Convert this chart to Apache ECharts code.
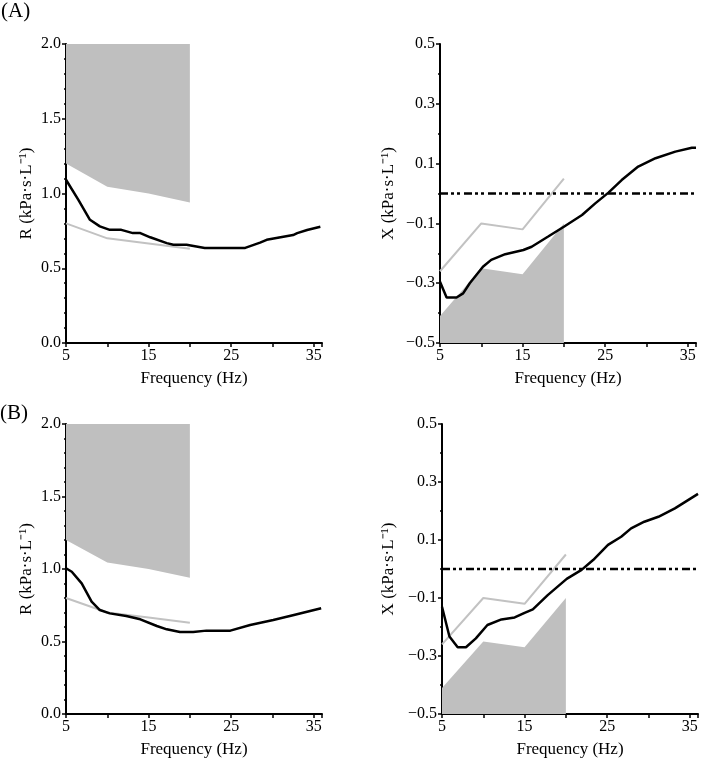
<!DOCTYPE html>
<html><head><meta charset="utf-8">
<script src="https://cdn.jsdelivr.net/npm/echarts@6/dist/echarts.min.js"></script>
<style>html,body{margin:0;padding:0;background:#fff}#c{width:709px;height:762px}</style>
</head><body><div id="c"></div>
<script>
// ---- Reference (predicted/normal) data, shared by A and B ----
const refFreq = [5, 10, 15, 20];
const rShadeLow = [1.20, 1.045, 1.0, 0.94];      // lower edge of shaded R band (band goes up to 2.0)
const rGray = [0.80, 0.70, 0.665, 0.63];
const xShadeHigh = [-0.41, -0.25, -0.27, -0.10]; // upper edge of shaded X band (band goes down to -0.5)
const xGray = [-0.26, -0.10, -0.12, 0.05];

// ---- Panel A ----
const aRFreq = [5, 6.5, 7.9, 9.1, 10.3, 11.7, 13.1, 14.0, 15.2, 17.2, 18.0, 19.6, 21.8, 26.7, 28.5, 29.3, 32.5, 33.0, 34.2, 35.8];
const aR = [1.092, 0.957, 0.824, 0.780, 0.757, 0.757, 0.735, 0.735, 0.707, 0.668, 0.657, 0.657, 0.636, 0.636, 0.671, 0.690, 0.722, 0.735, 0.756, 0.778];
const aXFreq = [5, 5.8, 7.0, 7.8, 8.6, 10.2, 11.2, 12.9, 15.1, 16.1, 18.1, 20, 22.2, 23.8, 25.4, 27.0, 29.0, 31.1, 33.5, 35.5, 36];
const aX = [-0.295, -0.348, -0.348, -0.334, -0.30, -0.245, -0.222, -0.203, -0.189, -0.178, -0.144, -0.111, -0.072, -0.033, 0.003, 0.045, 0.090, 0.118, 0.140, 0.153, 0.153];

// ---- Panel B ----
const bRFreq = [5, 5.7, 6.9, 8.1, 9.1, 10.3, 12.3, 14.0, 16.0, 17.2, 18.8, 20.4, 22.0, 24.9, 27.3, 30.1, 32.6, 35.9];
const bR = [1.005, 0.981, 0.901, 0.775, 0.717, 0.694, 0.676, 0.653, 0.607, 0.584, 0.565, 0.565, 0.575, 0.575, 0.614, 0.648, 0.683, 0.729];
const bXFreq = [5, 5.9, 6.9, 7.9, 9.1, 10.5, 12.2, 13.8, 15.0, 16.0, 17.8, 20.1, 21.9, 23.3, 25.1, 26.7, 27.9, 29.5, 31.2, 33.2, 36.0];
const bX = [-0.130, -0.233, -0.270, -0.270, -0.239, -0.193, -0.174, -0.167, -0.151, -0.139, -0.090, -0.034, -0.003, 0.031, 0.083, 0.111, 0.140, 0.163, 0.180, 0.209, 0.259];

const zeroFreq = [5, 36];
const zeroVal = [0, 0];

const xTickLabels = [5, 15, 25, 35];
const panelLabels = ['(A)', '(B)'];
const rName = 'R (kPa·s·L⁻¹)';
const xName = 'X (kPa·s·L⁻¹)';
const freqName = 'Frequency (Hz)';

const zip = (a, b) => a.map((v, i) => [v, b[i]]);
const FONT = "'Liberation Serif', 'Times New Roman', serif";

const grids = [
  { left: 66, top: 44, width: 256, height: 299 },
  { left: 440, top: 44, width: 256, height: 299 },
  { left: 66, top: 424, width: 256, height: 290 },
  { left: 442, top: 424, width: 256, height: 290 }
];

function xAx(i) {
  return {
    type: 'value', gridIndex: i, min: 5, max: 36, interval: 5,
    axisLine: { show: true, onZero: false, lineStyle: { color: '#000', width: 2 } },
    axisTick: { show: true, length: 4, lineStyle: { color: '#000', width: 1.5 } },
    splitLine: { show: false },
    axisLabel: {
      color: '#000', fontFamily: FONT, fontSize: 16, margin: 5,
      formatter: v => xTickLabels.indexOf(Math.round(v)) >= 0 && Math.abs(v - Math.round(v)) < 1e-6 ? String(Math.round(v)) : ''
    },
    name: freqName, nameLocation: 'middle', nameGap: 27,
    nameTextStyle: { color: '#000', fontFamily: FONT, fontSize: 17 }
  };
}
function yAx(i, isR, gap) {
  return {
    type: 'value', gridIndex: i,
    min: isR ? 0 : -0.5, max: isR ? 2 : 0.5, interval: isR ? 0.5 : 0.2,
    axisLine: { show: true, onZero: false, lineStyle: { color: '#000', width: 2 } },
    axisTick: { show: true, length: 4, lineStyle: { color: '#000', width: 1.5 } },
    minorTick: { show: true, splitNumber: isR ? 5 : 2, length: 2, lineStyle: { color: '#000', width: 1.5 } },
    splitLine: { show: false },
    axisLabel: {
      color: '#000', fontFamily: FONT, fontSize: 16, margin: 5,
      formatter: v => (Math.abs(v) < 1e-9 ? 0 : v).toFixed(1).replace('-', '−')
    },
    name: isR ? rName : xName, nameLocation: 'middle', nameGap: gap, nameRotate: 90,
    nameTextStyle: { color: '#000', fontFamily: FONT, fontSize: 17 }
  };
}

function shade(i, ys, origin) {
  return {
    type: 'line', xAxisIndex: i, yAxisIndex: i, data: zip(refFreq, ys),
    symbol: 'none', silent: true, z: 1,
    lineStyle: { width: 0, color: '#bfbfbf' },
    areaStyle: { color: '#bfbfbf', opacity: 1, origin: origin }
  };
}
function gray(i, ys) {
  return {
    type: 'line', xAxisIndex: i, yAxisIndex: i, data: zip(refFreq, ys),
    symbol: 'none', silent: true, z: 2,
    lineStyle: { width: 2, color: '#c2c2c2' }
  };
}
function black(i, xs, ys) {
  return {
    type: 'line', xAxisIndex: i, yAxisIndex: i, data: zip(xs, ys),
    symbol: 'none', silent: true, z: 4,
    lineStyle: { width: 2.5, color: '#000' }
  };
}
function zero(i) {
  return {
    type: 'line', xAxisIndex: i, yAxisIndex: i, data: zip(zeroFreq, zeroVal),
    symbol: 'none', silent: true, z: 3,
    lineStyle: { width: 2.5, color: '#000', type: [8, 3, 3, 3, 3, 4] }
  };
}

const chart = echarts.init(document.getElementById('c'), null, { renderer: 'canvas' });
chart.setOption({
  animation: false,
  backgroundColor: '#fff',
  grid: grids,
  xAxis: [xAx(0), xAx(1), xAx(2), xAx(3)],
  yAxis: [yAx(0, true, 31), yAx(1, false, 43), yAx(2, true, 31), yAx(3, false, 45)],
  graphic: [
    { type: 'text', left: 1, top: 1, style: { text: panelLabels[0], font: '21px ' + FONT, fill: '#000' } },
    { type: 'text', left: 0, top: 403, style: { text: panelLabels[1], font: '21px ' + FONT, fill: '#000' } }
  ],
  series: [
    shade(0, rShadeLow, 'end'), gray(0, rGray), black(0, aRFreq, aR),
    shade(1, xShadeHigh, 'start'), gray(1, xGray), zero(1), black(1, aXFreq, aX),
    shade(2, rShadeLow, 'end'), gray(2, rGray), black(2, bRFreq, bR),
    shade(3, xShadeHigh, 'start'), gray(3, xGray), zero(3), black(3, bXFreq, bX)
  ]
});
</script></body></html>
